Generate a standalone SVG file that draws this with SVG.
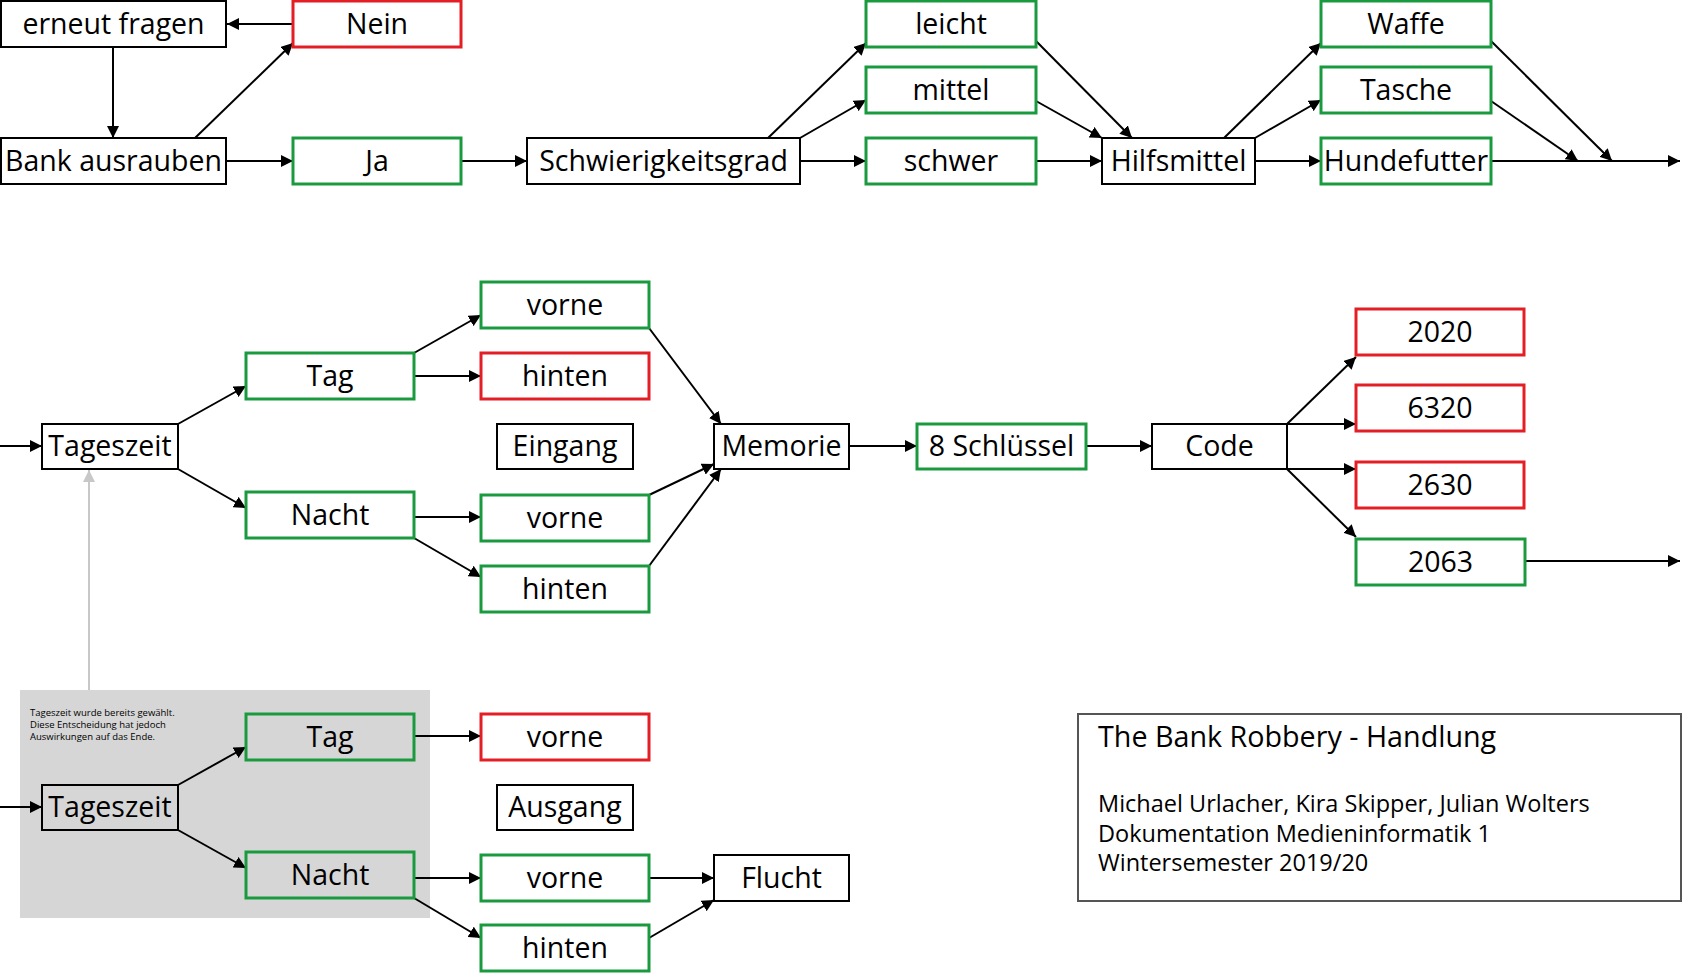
<svg xmlns="http://www.w3.org/2000/svg" width="1683" height="975" viewBox="0 0 1683 975">
<style>
.b{fill:#fff;stroke:#000;stroke-width:2}
.g{fill:#fff;stroke:#1a9a3f;stroke-width:3}
.r{fill:#fff;stroke:#e31e24;stroke-width:3}
.tb{fill:none;stroke:#000;stroke-width:2}
.tg{fill:none;stroke:#1a9a3f;stroke-width:3}
text{font-family:"Open Sans","Noto Sans","DejaVu Sans",sans-serif;fill:#000}
.t{font-size:28.5px;text-anchor:middle}
.c line{stroke:#000;stroke-width:2;marker-end:url(#ah)}
.note{font-size:9.5px}
.ti{font-size:28.7px}
.st{font-size:23.5px}
</style>
<defs>
<marker id="ah" markerUnits="userSpaceOnUse" markerWidth="13" markerHeight="12" refX="12" refY="6" orient="auto"><path d="M0,0 L12,6 L0,12 z" fill="#000"/></marker>
<marker id="ahg" markerUnits="userSpaceOnUse" markerWidth="13" markerHeight="12" refX="12" refY="6" orient="auto"><path d="M0,0 L12,6 L0,12 z" fill="#c8c8c8"/></marker>
</defs>
<rect x="0" y="0" width="1683" height="975" fill="#fff"/>
<rect id="hint-area" x="20" y="690" width="410" height="228" fill="#d6d6d6"/>
<g id="connectors" class="c">
<line x1="293" y1="24" x2="227" y2="24"/>
<line x1="113" y1="47" x2="113" y2="138"/>
<line x1="195" y1="138" x2="293" y2="43"/>
<line x1="226" y1="161" x2="293" y2="161"/>
<line x1="461" y1="161" x2="527" y2="161"/>
<line x1="768" y1="138" x2="866" y2="43"/>
<line x1="800" y1="138" x2="866" y2="100"/>
<line x1="800" y1="161" x2="866" y2="161"/>
<line x1="1036" y1="41" x2="1132" y2="138"/>
<line x1="1036" y1="101" x2="1102" y2="138"/>
<line x1="1036" y1="161" x2="1102" y2="161"/>
<line x1="1224" y1="138" x2="1321" y2="43"/>
<line x1="1255" y1="138" x2="1321" y2="100"/>
<line x1="1255" y1="161" x2="1321" y2="161"/>
<line x1="1491" y1="161" x2="1680" y2="161"/>
<line x1="1491" y1="41" x2="1612" y2="161"/>
<line x1="1491" y1="101" x2="1578" y2="161"/>
<line x1="0" y1="446" x2="42" y2="446"/>
<line x1="178" y1="424" x2="246" y2="386"/>
<line x1="178" y1="469" x2="246" y2="508"/>
<line x1="414" y1="353" x2="481" y2="315"/>
<line x1="414" y1="376" x2="481" y2="376"/>
<line x1="414" y1="517" x2="481" y2="517"/>
<line x1="414" y1="538" x2="481" y2="577"/>
<line x1="649" y1="328" x2="721" y2="424"/>
<line x1="649" y1="495" x2="714" y2="464"/>
<line x1="649" y1="566" x2="721" y2="469"/>
<line x1="849" y1="446" x2="917" y2="446"/>
<line x1="1086" y1="446" x2="1152" y2="446"/>
<line x1="1287" y1="424" x2="1356" y2="357"/>
<line x1="1287" y1="424" x2="1356" y2="424"/>
<line x1="1287" y1="469" x2="1356" y2="469"/>
<line x1="1287" y1="469" x2="1356" y2="537"/>
<line x1="1525" y1="561" x2="1680" y2="561"/>
<line x1="89" y1="690" x2="89" y2="470" style="stroke:#c8c8c8;marker-end:url(#ahg)"/>
<line x1="0" y1="807" x2="42" y2="807"/>
<line x1="178" y1="785" x2="246" y2="747"/>
<line x1="178" y1="830" x2="246" y2="868"/>
<line x1="414" y1="736" x2="481" y2="736"/>
<line x1="414" y1="878" x2="481" y2="878"/>
<line x1="414" y1="898" x2="481" y2="938"/>
<line x1="649" y1="878" x2="714" y2="878"/>
<line x1="649" y1="938" x2="714" y2="900"/>
</g>
<g id="n-erneut"><rect class="b" x="1" y="1" width="225" height="46"/><text class="t" x="113.5" y="34">erneut fragen</text></g>
<g id="n-nein"><rect class="r" x="293" y="1" width="168" height="46"/><text class="t" x="377" y="34">Nein</text></g>
<g id="n-bank"><rect class="b" x="1" y="138" width="225" height="46"/><text class="t" x="113.5" y="171">Bank ausrauben</text></g>
<g id="n-ja"><rect class="g" x="293" y="138" width="168" height="46"/><text class="t" x="377" y="171">Ja</text></g>
<g id="n-schwierig"><rect class="b" x="527" y="138" width="273" height="46"/><text class="t" x="663.5" y="171">Schwierigkeitsgrad</text></g>
<g id="n-leicht"><rect class="g" x="866" y="1" width="170" height="46"/><text class="t" x="951" y="34">leicht</text></g>
<g id="n-mittel"><rect class="g" x="866" y="67" width="170" height="46"/><text class="t" x="951" y="100">mittel</text></g>
<g id="n-schwer"><rect class="g" x="866" y="138" width="170" height="46"/><text class="t" x="951" y="171">schwer</text></g>
<g id="n-hilfsmittel"><rect class="b" x="1102" y="138" width="153" height="46"/><text class="t" x="1178.5" y="171">Hilfsmittel</text></g>
<g id="n-waffe"><rect class="g" x="1321" y="1" width="170" height="46"/><text class="t" x="1406" y="34">Waffe</text></g>
<g id="n-tasche"><rect class="g" x="1321" y="67" width="170" height="46"/><text class="t" x="1406" y="100">Tasche</text></g>
<g id="n-hundefutter"><rect class="g" x="1321" y="138" width="170" height="46"/><text class="t" x="1406" y="171">Hundefutter</text></g>
<g id="n-tageszeit1"><rect class="b" x="42" y="424" width="136" height="45"/><text class="t" x="110" y="456">Tageszeit</text></g>
<g id="n-tag1"><rect class="g" x="246" y="353" width="168" height="46"/><text class="t" x="330" y="386">Tag</text></g>
<g id="n-nacht1"><rect class="g" x="246" y="492" width="168" height="46"/><text class="t" x="330" y="525">Nacht</text></g>
<g id="n-vorne1"><rect class="g" x="481" y="282" width="168" height="46"/><text class="t" x="565" y="315">vorne</text></g>
<g id="n-hinten1"><rect class="r" x="481" y="353" width="168" height="46"/><text class="t" x="565" y="386">hinten</text></g>
<g id="n-eingang"><rect class="b" x="497" y="424" width="136" height="45"/><text class="t" x="565" y="456">Eingang</text></g>
<g id="n-vorne2"><rect class="g" x="481" y="495" width="168" height="46"/><text class="t" x="565" y="528">vorne</text></g>
<g id="n-hinten2"><rect class="g" x="481" y="566" width="168" height="46"/><text class="t" x="565" y="599">hinten</text></g>
<g id="n-memorie"><rect class="b" x="714" y="424" width="135" height="45"/><text class="t" x="781.5" y="456">Memorie</text></g>
<g id="n-schluessel"><rect class="g" x="917" y="424" width="169" height="45"/><text class="t" x="1001.5" y="456">8 Schlüssel</text></g>
<g id="n-code"><rect class="b" x="1152" y="424" width="135" height="45"/><text class="t" x="1219.5" y="456">Code</text></g>
<g id="n-2020"><rect class="r" x="1356" y="309" width="168" height="46"/><text class="t" x="1440" y="342">2020</text></g>
<g id="n-6320"><rect class="r" x="1356" y="385" width="168" height="46"/><text class="t" x="1440" y="418">6320</text></g>
<g id="n-2630"><rect class="r" x="1356" y="462" width="168" height="46"/><text class="t" x="1440" y="495">2630</text></g>
<g id="n-2063"><rect class="g" x="1356" y="539" width="169" height="46"/><text class="t" x="1440.5" y="572">2063</text></g>
<g id="n-note"><text class="note" x="30" y="716">Tageszeit wurde bereits gewählt.</text><text class="note" x="30" y="728">Diese Entscheidung hat jedoch</text><text class="note" x="30" y="740">Auswirkungen auf das Ende.</text></g>
<g id="n-tageszeit2"><rect class="tb" x="42" y="785" width="136" height="45"/><text class="t" x="110" y="817">Tageszeit</text></g>
<g id="n-tag2"><rect class="tg" x="246" y="714" width="168" height="46"/><text class="t" x="330" y="747">Tag</text></g>
<g id="n-nacht2"><rect class="tg" x="246" y="852" width="168" height="46"/><text class="t" x="330" y="885">Nacht</text></g>
<g id="n-vorne3"><rect class="r" x="481" y="714" width="168" height="46"/><text class="t" x="565" y="747">vorne</text></g>
<g id="n-ausgang"><rect class="b" x="497" y="785" width="136" height="45"/><text class="t" x="565" y="817">Ausgang</text></g>
<g id="n-vorne4"><rect class="g" x="481" y="855" width="168" height="46"/><text class="t" x="565" y="888">vorne</text></g>
<g id="n-hinten4"><rect class="g" x="481" y="925" width="168" height="46"/><text class="t" x="565" y="958">hinten</text></g>
<g id="n-flucht"><rect class="b" x="714" y="855" width="135" height="46"/><text class="t" x="781.5" y="888">Flucht</text></g>
<g id="n-title"><rect x="1078" y="714" width="603" height="187" fill="#fff" stroke="#555" stroke-width="2"/><text class="ti" x="1098" y="747">The Bank Robbery - Handlung</text><text class="st" x="1098" y="812">Michael Urlacher, Kira Skipper, Julian Wolters</text><text class="st" x="1098" y="842">Dokumentation Medieninformatik 1</text><text class="st" x="1098" y="871">Wintersemester 2019/20</text></g>
</svg>
